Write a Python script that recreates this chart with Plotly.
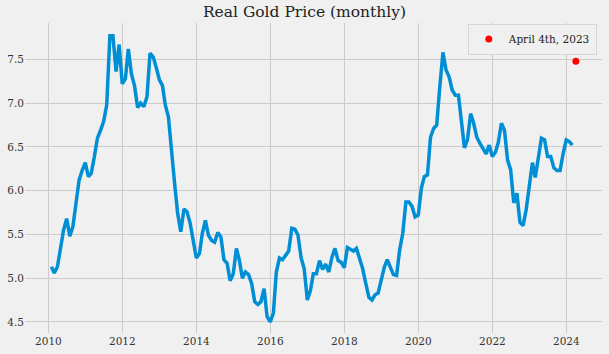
import pandas as pd
import plotly.graph_objects as go

# Monthly real gold price, Jan 2010 .. Feb 2024 (month-end)
start_month = "2010-02-01"
values = [
    5.13, 5.06, 5.13, 5.32, 5.55, 5.68, 5.48, 5.59, 5.82, 6.12,
    6.23, 6.32, 6.16, 6.20, 6.39, 6.60, 6.69, 6.79, 6.98, 7.77,
    7.77, 7.36, 7.67, 7.22, 7.28, 7.62, 7.33, 7.20, 6.95, 7.00,
    6.96, 7.07, 7.57, 7.53, 7.41, 7.27, 7.20, 6.98, 6.84, 6.42,
    6.08, 5.74, 5.53, 5.79, 5.76, 5.63, 5.43, 5.23, 5.28, 5.51,
    5.66, 5.49, 5.43, 5.41, 5.52, 5.47, 5.21, 5.17, 4.97, 5.05,
    5.34, 5.21, 5.00, 5.07, 5.04, 4.94, 4.73, 4.70, 4.73, 4.88,
    4.56, 4.50, 4.60, 5.07, 5.23, 5.21, 5.26, 5.31, 5.57, 5.56,
    5.49, 5.23, 5.11, 4.75, 4.86, 5.05, 5.05, 5.20, 5.10, 5.16,
    5.07, 5.24, 5.34, 5.20, 5.18, 5.12, 5.35, 5.33, 5.31, 5.34,
    5.21, 5.11, 4.94, 4.78, 4.75, 4.81, 4.83, 5.00, 5.13, 5.21,
    5.11, 5.04, 5.03, 5.32, 5.51, 5.87, 5.87, 5.82, 5.70, 5.72,
    6.03, 6.16, 6.18, 6.61, 6.71, 6.75, 7.19, 7.58, 7.38, 7.30,
    7.15, 7.09, 7.09, 6.80, 6.49, 6.58, 6.88, 6.77, 6.61, 6.54,
    6.48, 6.42, 6.52, 6.39, 6.44, 6.55, 6.77, 6.69, 6.35, 6.24,
    5.86, 5.97, 5.64, 5.60, 5.78, 6.04, 6.32, 6.15, 6.39, 6.60,
    6.58, 6.39, 6.39, 6.26, 6.23, 6.23, 6.42, 6.58, 6.56, 6.52,
]
dates = pd.date_range(start_month, periods=len(values), freq="MS") - pd.Timedelta(days=1)

point_label = "April 4th, 2023"
point_date = ["2024-04-04"]
point_value = [7.48]

x_ticks = ["2010-01-01", "2012-01-01", "2014-01-01", "2016-01-01",
           "2018-01-01", "2020-01-01", "2022-01-01", "2024-01-01"]
x_tick_text = ["2010", "2012", "2014", "2016", "2018", "2020", "2022", "2024"]
y_ticks = [4.5, 5.0, 5.5, 6.0, 6.5, 7.0, 7.5]
y_tick_text = ["4.5", "5.0", "5.5", "6.0", "6.5", "7.0", "7.5"]

BG = "#f0f0f0"
GRID = "#cbcbcb"
FONT = "DejaVu Serif"

fig = go.Figure()
fig.add_trace(go.Scatter(
    x=dates, y=values, mode="lines",
    line=dict(color="#008fd5", width=3.5),
    showlegend=False, hoverinfo="skip",
))
fig.add_trace(go.Scatter(
    x=point_date, y=point_value, mode="markers",
    marker=dict(color="red", size=7),
    name=point_label,
))

fig.update_layout(
    width=609, height=354,
    paper_bgcolor=BG, plot_bgcolor=BG,
    margin=dict(l=25, r=7, t=23, b=21),
    font=dict(family=FONT, size=10.5, color="#333333"),
    title=dict(text="Real Gold Price (monthly)", x=0.5, xanchor="center",
               y=0.967, yanchor="middle",
               font=dict(family=FONT, size=15.5, color="#222222")),
    legend=dict(x=0.991, xanchor="right", y=0.998, yanchor="top",
                bgcolor=BG, bordercolor="#d6d6d6", borderwidth=1,
                font=dict(family=FONT, size=10.5, color="#222222")),
    showlegend=True,
)
fig.update_xaxes(
    type="date", range=["2009-05-15", "2024-12-18"],
    tickvals=x_ticks, ticktext=x_tick_text,
    showgrid=True, gridcolor=GRID, gridwidth=1,
    zeroline=False, showline=False, ticks="",
)
fig.update_yaxes(
    range=[4.373, 7.916],
    tickvals=y_ticks, ticktext=y_tick_text,
    showgrid=True, gridcolor=GRID, gridwidth=1,
    zeroline=False, showline=False, ticks="",
)

fig.write_html("out.html")
